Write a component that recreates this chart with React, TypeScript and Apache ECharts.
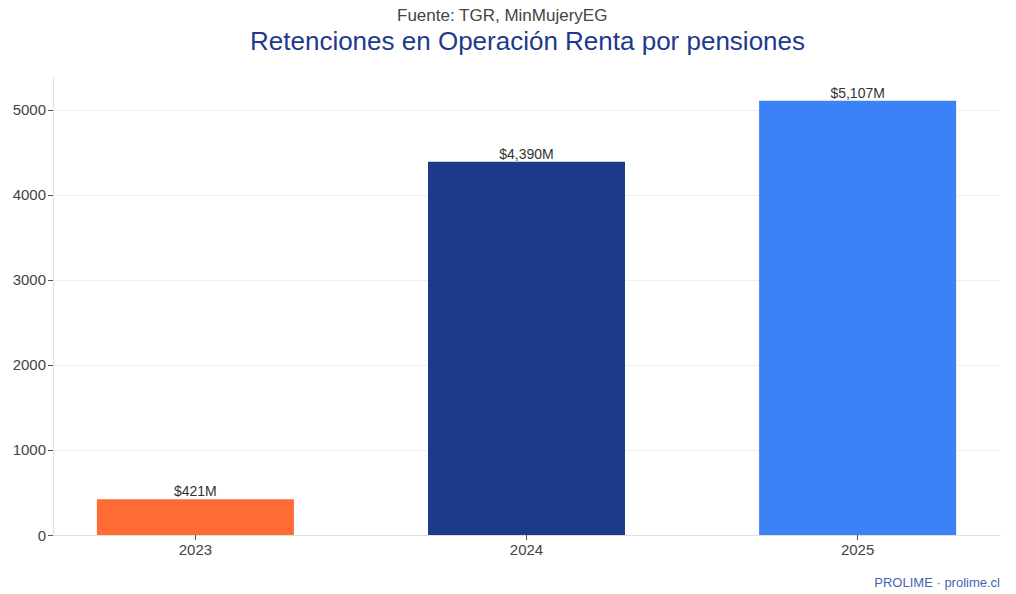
import React, { useEffect, useRef } from "react";
import * as echarts from "echarts";

const years = [2023, 2024, 2025];
const values = [421, 4390, 5107];
const valueLabels = ["$421M", "$4,390M", "$5,107M"];
const barColors = ["#ff6b35", "#1e3a8a", "#3b82f6"];
const yTicks = [0, 1000, 2000, 3000, 4000, 5000];

const FONT = "'Liberation Sans', Arial, Helvetica, sans-serif";

export default function App() {
  const ref = useRef<HTMLDivElement>(null);
  useEffect(() => {
    if (!ref.current) return;
    const chart = echarts.init(ref.current, undefined, { renderer: "svg" });
    chart.setOption({
      animation: false,
      backgroundColor: "#ffffff",
      textStyle: { fontFamily: FONT },
      graphic: [
        {
          type: "text",
          left: 397,
          top: 7,
          style: { text: "Fuente: TGR, MinMujeryEG", fontSize: 17, fill: "#444444", fontFamily: FONT },
        },
        {
          type: "text",
          left: 250,
          top: 28,
          style: { text: "Retenciones en Operación Renta por pensiones", fontSize: 26, fill: "#1e3a8a", fontFamily: FONT },
        },
        {
          type: "text",
          right: 16,
          top: 576,
          style: { text: "PROLIME · prolime.cl", fontSize: 13, fill: "#4a5fb0", fontFamily: FONT },
        },
      ],
      grid: { left: 53, right: 16, top: 78, bottom: 59, containLabel: false },
      xAxis: {
        type: "value",
        min: 2022.57,
        max: 2025.43,
        splitLine: { show: false },
        axisLine: { show: true, onZero: false, lineStyle: { color: "#e0e0e0", width: 1 } },
        axisTick: { show: true, customValues: years, length: 5, lineStyle: { color: "#555" } },
        axisLabel: {
          customValues: years,
          formatter: (v: number) => String(v),
          fontSize: 15,
          color: "#444444",
          margin: 7,
          fontFamily: FONT,
        },
      },
      yAxis: {
        type: "value",
        min: 0,
        max: 5375,
        interval: 1000,
        axisLine: { show: true, lineStyle: { color: "#e0e0e0", width: 1 } },
        axisTick: { show: true, customValues: yTicks, length: 5, lineStyle: { color: "#555" } },
        axisLabel: {
          customValues: yTicks,
          formatter: (v: number) => String(v),
          fontSize: 15,
          color: "#444444",
          margin: 7,
          fontFamily: FONT,
        },
        splitLine: { show: true, lineStyle: { color: "#eeeeee", width: 1 } },
      },
      series: [
        {
          type: "bar",
          barWidth: 197,
          data: years.map((y, i) => ({
            value: [y, values[i]],
            itemStyle: { color: barColors[i] },
            label: { formatter: valueLabels[i] },
          })),
          label: {
            show: true,
            position: "top",
            distance: 1,
            fontSize: 14,
            color: "#333333",
            fontFamily: FONT,
          },
        },
      ],
    });
    return () => chart.dispose();
  }, []);
  return (
    <div
      ref={ref}
      style={{ position: "fixed", left: 0, top: 0, width: 1016, height: 594 }}
    />
  );
}
